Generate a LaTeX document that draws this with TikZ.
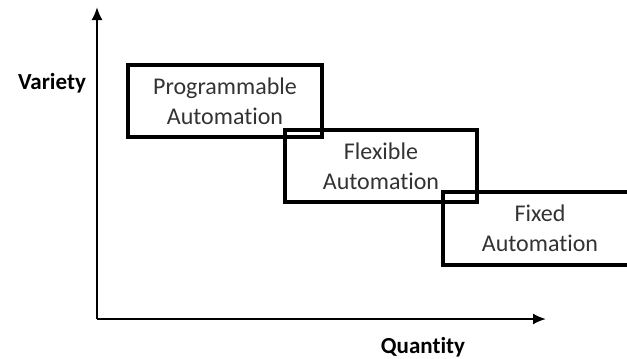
\documentclass[tikz,border=0pt]{standalone}
\usepackage{fontspec}
\setmainfont{Carlito}[Ligatures=NoCommon]
\usetikzlibrary{arrows.meta}

\tikzset{
  autobox/.style={draw, line width=3.5pt, minimum width=194pt, minimum height=72pt,
    inner sep=0pt, align=center, font=\fontsize{24}{30}\selectfont, text=black!80},
  axislabel/.style={font=\fontsize{23}{26}\selectfont\bfseries}
}

\begin{document}
\begin{tikzpicture}[x=1pt, y=-1pt]
\useasboundingbox (0,0) rectangle (627,359);
%
\coordinate (origin) at (97,319);
\coordinate (ytip) at (97,7);
\coordinate (xtip) at (546,319);
\draw[line width=2pt, -{Latex[length=13pt,width=11pt]}] (origin)--(ytip);
\draw[line width=2pt, -{Latex[length=13pt,width=11pt]}] (origin)--(xtip);
%
\node[axislabel] (variety) at (52,83) {Variety};
\node[axislabel] (quantity) at (423,347) {Quantity};
%
\node[autobox] (prog) at (225,101) {Programmable\\Automation};
\node[autobox, minimum width=192pt] (flex) at (381,166) {Flexible\\Automation};
\node[autobox, minimum height=73pt] (fixed) at (540,228.5) {Fixed\\Automation};
\end{tikzpicture}
\end{document}
